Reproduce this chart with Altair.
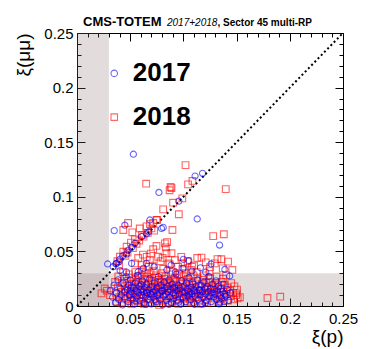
import altair as alt
import pandas as pd

F = "Liberation Sans"

# ---------------- data ----------------
major_ticks = [0, 0.05, 0.1, 0.15, 0.2, 0.25]
minor_ticks = [0.01, 0.02, 0.03, 0.04, 0.06, 0.07, 0.08, 0.09, 0.11, 0.12, 0.13, 0.14,
               0.16, 0.17, 0.18, 0.19, 0.21, 0.22, 0.23, 0.24]

title_parts = ["CMS-TOTEM", "2017+2018", ", Sector 45 multi-RP"]
legend_labels = ["2017", "2018"]
legend_y = [0.213, 0.173]
legend_x_symbol = 0.035
legend_x_text = 0.0525

band_threshold = 0.03
axis_max = 0.25

cluster_2018 = [
    (0.023, 0.0116), (0.028, 0.014), (0.031, 0.010), (0.026, 0.016),
    (0.0365, 0.012), (0.0358, 0.022), (0.0372, 0.004), (0.0384, 0.017), (0.0396, 0.008), (0.0388, 0.027),
    (0.0415, 0.013), (0.0428, 0.021), (0.0421, 0.003), (0.0433, 0.031), (0.0447, 0.009), (0.0452, 0.018),
    (0.0441, 0.025), (0.0459, 0.014), (0.0476, 0.006), (0.0483, 0.016), (0.0472, 0.023), (0.0489, 0.029),
    (0.0495, 0.011), (0.0507, 0.013), (0.0516, 0.020), (0.0512, 0.002), (0.0521, 0.026), (0.0503, 0.008),
    (0.0538, 0.017), (0.0545, 0.010), (0.0551, 0.024), (0.0534, 0.005), (0.0547, 0.031), (0.0556, 0.014),
    (0.0566, 0.012), (0.0578, 0.019), (0.0573, 0.027), (0.0584, 0.007), (0.0569, 0.022),
    (0.0596, 0.015), (0.0604, 0.004), (0.0611, 0.021), (0.0598, 0.010), (0.0607, 0.028), (0.0615, 0.033),
    (0.0624, 0.008), (0.0637, 0.018), (0.0632, 0.013), (0.0641, 0.025), (0.0628, 0.002), (0.0645, 0.030),
    (0.0655, 0.011), (0.0668, 0.020), (0.0662, 0.016), (0.0671, 0.006), (0.0658, 0.027), (0.0674, 0.036),
    (0.0686, 0.014), (0.0694, 0.009), (0.0699, 0.023), (0.0683, 0.003), (0.0702, 0.018), (0.0691, 0.029),
    (0.0714, 0.017), (0.0726, 0.012), (0.0731, 0.026), (0.0718, 0.006), (0.0735, 0.021), (0.0722, 0.032),
    (0.0746, 0.010), (0.0757, 0.019), (0.0752, 0.004), (0.0763, 0.015), (0.0741, 0.028), (0.0768, 0.024),
    (0.0776, 0.013), (0.0785, 0.022), (0.0779, 0.008), (0.0792, 0.017), (0.0773, 0.001), (0.0796, 0.030),
    (0.0806, 0.016), (0.0814, 0.011), (0.0819, 0.025), (0.0802, 0.005), (0.0825, 0.020), (0.0811, 0.034),
    (0.0836, 0.009), (0.0845, 0.018), (0.0849, 0.014), (0.0832, 0.027), (0.0854, 0.003), (0.0841, 0.022),
    (0.0866, 0.012), (0.0874, 0.021), (0.0879, 0.007), (0.0862, 0.016), (0.0885, 0.029), (0.0871, 0.038),
    (0.0896, 0.015), (0.0904, 0.010), (0.0909, 0.024), (0.0893, 0.004), (0.0915, 0.019), (0.0901, 0.031),
    (0.0926, 0.011), (0.0934, 0.018), (0.0939, 0.006), (0.0922, 0.026), (0.0945, 0.014), (0.0931, 0.022),
    (0.0956, 0.016), (0.0964, 0.009), (0.0969, 0.023), (0.0952, 0.002), (0.0975, 0.013), (0.0961, 0.029),
    (0.0986, 0.012), (0.0994, 0.020), (0.0999, 0.007), (0.0982, 0.017), (0.1005, 0.027), (0.0991, 0.034),
    (0.1016, 0.015), (0.1024, 0.008), (0.1029, 0.022), (0.1012, 0.011), (0.1035, 0.004), (0.1021, 0.030),
    (0.1046, 0.013), (0.1054, 0.019), (0.1059, 0.006), (0.1042, 0.025), (0.1065, 0.017),
    (0.1076, 0.010), (0.1084, 0.021), (0.1089, 0.014), (0.1072, 0.003), (0.1095, 0.028), (0.1081, 0.036),
    (0.1106, 0.016), (0.1114, 0.008), (0.1119, 0.023), (0.1102, 0.012), (0.1125, 0.031),
    (0.1136, 0.011), (0.1144, 0.018), (0.1149, 0.005), (0.1132, 0.026), (0.1155, 0.014),
    (0.1166, 0.014), (0.1174, 0.020), (0.1179, 0.009), (0.1162, 0.002), (0.1185, 0.024),
    (0.1196, 0.012), (0.1204, 0.017), (0.1209, 0.006), (0.1192, 0.028), (0.1215, 0.021),
    (0.1226, 0.015), (0.1234, 0.010), (0.1239, 0.022), (0.1222, 0.003), (0.1245, 0.032),
    (0.1256, 0.009), (0.1264, 0.018), (0.1269, 0.013), (0.1252, 0.025),
    (0.1286, 0.016), (0.1294, 0.007), (0.1299, 0.021), (0.1282, 0.011),
    (0.1316, 0.012), (0.1324, 0.019), (0.1329, 0.004), (0.1312, 0.027),
    (0.1346, 0.010), (0.1354, 0.016), (0.1359, 0.022), (0.1342, 0.006),
    (0.1376, 0.013), (0.1384, 0.008), (0.1389, 0.019), (0.1372, 0.025),
    (0.1406, 0.011), (0.1414, 0.017), (0.1419, 0.005), (0.1402, 0.028),
    (0.1436, 0.014), (0.1444, 0.009), (0.1449, 0.021),
    (0.1466, 0.012), (0.1474, 0.006), (0.1479, 0.018),
    (0.1496, 0.010), (0.1504, 0.015), (0.1531, 0.008), (0.151, 0.007), (0.150, 0.0116),
    (0.179, 0.0073), (0.191, 0.0085),
]

upper_2018 = [
    (0.102, 0.129), (0.065, 0.112), (0.088, 0.109), (0.087, 0.106), (0.1044, 0.1114), (0.1085, 0.1145),
    (0.0888, 0.108), (0.1398, 0.107), (0.0903, 0.0946), (0.099, 0.0986), (0.0957, 0.084), (0.081, 0.0885),
    (0.0753, 0.0788), (0.048, 0.076), (0.0435, 0.0696), (0.052, 0.0675), (0.0897, 0.0696), (0.128, 0.064),
    (0.138, 0.0657), (0.0847, 0.0585), (0.0835, 0.0537), (0.117, 0.0443), (0.1357, 0.0428), (0.142, 0.0406),
    (0.137, 0.0345), (0.1295, 0.039), (0.0997, 0.039), (0.0888, 0.0483),
    (0.059, 0.071), (0.061, 0.065), (0.0653, 0.073), (0.0685, 0.075), (0.0716, 0.076), (0.0747, 0.0788),
    (0.0544, 0.061), (0.0507, 0.058), (0.0466, 0.0543), (0.0435, 0.0497), (0.0403, 0.0451), (0.038, 0.041),
    (0.0395, 0.037), (0.0475, 0.049), (0.0455, 0.046), (0.0525, 0.053), (0.056, 0.057), (0.0585, 0.060),
    (0.0625, 0.0635), (0.0665, 0.067), (0.070, 0.071), (0.0725, 0.069),
    (0.0747, 0.055), (0.0716, 0.052), (0.0826, 0.0574), (0.0841, 0.0483), (0.0763, 0.0451), (0.0685, 0.042),
    (0.0607, 0.0375), (0.0655, 0.045), (0.0695, 0.048), (0.0785, 0.041), (0.0805, 0.044), (0.092, 0.042),
    (0.095, 0.036), (0.104, 0.041), (0.110, 0.037), (0.113, 0.044), (0.121, 0.040), (0.125, 0.0355),
    (0.132, 0.043), (0.0575, 0.044), (0.0545, 0.039), (0.062, 0.047), (0.071, 0.037), (0.086, 0.039),
    (0.098, 0.045), (0.107, 0.033), (0.146, 0.033),
]

cluster_2017 = [
    (0.0312, 0.014), (0.0335, 0.008), (0.0348, 0.019), (0.0362, 0.003), (0.0371, 0.012), (0.0386, 0.024),
    (0.0393, 0.006), (0.0408, 0.016), (0.0416, 0.010), (0.0427, 0.001), (0.0433, 0.021), (0.0446, 0.013),
    (0.0452, 0.007), (0.0461, 0.027), (0.0474, 0.015), (0.0482, 0.004), (0.0488, 0.019), (0.0495, 0.010),
    (0.0503, 0.024), (0.0511, 0.013), (0.0518, 0.006), (0.0527, 0.017), (0.0534, 0.011), (0.0542, 0.002),
    (0.0549, 0.021), (0.0556, 0.014), (0.0563, 0.008), (0.0571, 0.028), (0.0578, 0.012), (0.0586, 0.018),
    (0.0593, 0.005), (0.0601, 0.015), (0.0608, 0.010), (0.0615, 0.023), (0.0622, 0.013), (0.0631, 0.003),
    (0.0638, 0.017), (0.0645, 0.009), (0.0652, 0.020), (0.0661, 0.012), (0.0668, 0.006), (0.0675, 0.015),
    (0.0683, 0.025), (0.0691, 0.011), (0.0698, 0.002), (0.0706, 0.018), (0.0713, 0.013), (0.0722, 0.008),
    (0.0729, 0.021), (0.0737, 0.014), (0.0744, 0.004), (0.0752, 0.017), (0.0759, 0.010), (0.0767, 0.027),
    (0.0774, 0.012), (0.0782, 0.006), (0.0789, 0.019), (0.0797, 0.014), (0.0805, 0.001), (0.0812, 0.009),
    (0.0819, 0.022), (0.0827, 0.016), (0.0834, 0.011), (0.0842, 0.005), (0.0849, 0.018), (0.0857, 0.013),
    (0.0864, 0.024), (0.0872, 0.008), (0.0879, 0.015), (0.0887, 0.003), (0.0894, 0.020), (0.0902, 0.012),
    (0.0909, 0.007), (0.0917, 0.017), (0.0924, 0.010), (0.0932, 0.029), (0.0939, 0.014), (0.0947, 0.005),
    (0.0954, 0.019), (0.0962, 0.011), (0.0969, 0.016), (0.0977, 0.002), (0.0984, 0.023), (0.0992, 0.013),
    (0.0999, 0.008), (0.1007, 0.018), (0.1014, 0.012), (0.1022, 0.004), (0.1029, 0.021), (0.1037, 0.015),
    (0.1044, 0.009), (0.1052, 0.026), (0.1059, 0.013), (0.1067, 0.006), (0.1074, 0.017), (0.1082, 0.011),
    (0.1089, 0.020), (0.1097, 0.003), (0.1104, 0.014), (0.1112, 0.009), (0.1119, 0.018), (0.1127, 0.012),
    (0.1134, 0.024), (0.1142, 0.006), (0.1149, 0.015), (0.1157, 0.010), (0.1164, 0.019), (0.1172, 0.002),
    (0.1179, 0.013), (0.1187, 0.008), (0.1194, 0.022), (0.1202, 0.016), (0.1209, 0.011), (0.1217, 0.005),
    (0.1224, 0.018), (0.1232, 0.013), (0.1239, 0.027), (0.1247, 0.009), (0.1254, 0.016), (0.1262, 0.004),
    (0.1269, 0.012), (0.1277, 0.020), (0.1284, 0.008), (0.1292, 0.015), (0.1299, 0.011), (0.1307, 0.023),
    (0.1314, 0.006), (0.1322, 0.014), (0.1329, 0.018), (0.1337, 0.002), (0.1344, 0.010), (0.1352, 0.016),
    (0.1359, 0.007), (0.1367, 0.013), (0.1374, 0.020), (0.1382, 0.004), (0.1389, 0.011), (0.1397, 0.009),
    (0.1412, 0.015), (0.1427, 0.005), (0.1441, 0.012),
    (0.0556, 0.0045), (0.0645, 0.0015), (0.0735, 0.0055), (0.0865, 0.0015), (0.0955, 0.0035),
    (0.1105, 0.0015), (0.1205, 0.0025), (0.1345, 0.0035), (0.0505, 0.0165), (0.0705, 0.0105),
    (0.0805, 0.0135), (0.0905, 0.0165), (0.1055, 0.0105), (0.1155, 0.0145), (0.0655, 0.0125), (0.0605, 0.0195),
]

upper_2017 = [
    (0.053, 0.139), (0.111, 0.119), (0.118, 0.1215), (0.077, 0.104), (0.0957, 0.096), (0.113, 0.0797),
    (0.0685, 0.0788), (0.081, 0.072), (0.035, 0.069), (0.045, 0.074), (0.0794, 0.071), (0.134, 0.0558),
    (0.100, 0.0428), (0.105, 0.0415), (0.126, 0.0385), (0.116, 0.035), (0.0997, 0.0345), (0.1435, 0.0275),
    (0.034, 0.036), (0.037, 0.039), (0.0403, 0.0428), (0.043, 0.046), (0.048, 0.051), (0.0513, 0.0537),
    (0.0544, 0.0574), (0.0607, 0.0635), (0.0653, 0.066), (0.0675, 0.068), (0.0465, 0.0475), (0.0395, 0.0405),
    (0.0365, 0.0385), (0.0288, 0.0385), (0.0513, 0.039), (0.0575, 0.0314), (0.0653, 0.039), (0.0725, 0.036),
    (0.0845, 0.033), (0.0925, 0.031), (0.108, 0.032), (0.0465, 0.031), (0.0405, 0.0325), (0.121, 0.031),
    (0.139, 0.0335), (0.0625, 0.0345), (0.0885, 0.0375),
]

# ---------------- tables ----------------
pts18 = cluster_2018 + upper_2018
pts17 = cluster_2017 + upper_2017
df18 = pd.DataFrame({"xp": [p[0] for p in pts18], "xmm": [p[1] for p in pts18]})
df17 = pd.DataFrame({"xp": [p[0] for p in pts17], "xmm": [p[1] for p in pts17]})
vband = pd.DataFrame({"x0": [0], "x1": [band_threshold], "y0": [0], "y1": [axis_max]})
hband = pd.DataFrame({"x0": [0], "x1": [axis_max], "y0": [0], "y1": [band_threshold]})
diag = pd.DataFrame({"xp": [0, axis_max], "xmm": [0, axis_max]})
leg = pd.DataFrame({"label": legend_labels, "y": legend_y,
                    "xs": [legend_x_symbol] * 2, "xt": [legend_x_text] * 2})

W, H = 266, 273
sc = alt.Scale(domain=[0, axis_max], nice=False, zero=False)


def tick_axis(orient, values, size, offset):
    return alt.Axis(orient=orient, values=values, tickSize=size, offset=offset, labels=False,
                    domain=False, grid=False, title=None, ticks=True, tickColor="black", tickWidth=1)


x_lab = alt.Axis(orient="bottom", values=major_ticks, format=".2~f", ticks=False, tickSize=0,
                 domain=False, grid=False, labelFont=F, labelFontSize=15, labelColor="black",
                 labelPadding=5, labelFlush=False, labelOverlap=False,
                 title="ξ(p)", titleFont=F, titleFontSize=19, titleFontWeight="normal",
                 titleColor="black", titleX=W, titleY=36, titleAlign="right",
                 titleBaseline="alphabetic")
y_lab = alt.Axis(orient="left", values=major_ticks, format=".2~f", ticks=False, tickSize=0,
                 domain=False, grid=False, labelFont=F, labelFontSize=15, labelColor="black",
                 labelPadding=4, labelFlush=False, labelOverlap=False,
                 title="ξ(μμ)", titleFont=F, titleFontSize=19, titleFontWeight="normal",
                 titleColor="black", titleX=-44, titleY=0, titleAngle=270, titleAlign="right",
                 titleBaseline="bottom")

band_color = "#8c6e72"

l_vband = alt.Chart(vband).mark_rect(color=band_color, opacity=0.24).encode(
    x=alt.X("x0:Q", scale=sc, axis=x_lab), x2="x1:Q",
    y=alt.Y("y0:Q", scale=sc, axis=y_lab), y2="y1:Q")

l_hband = alt.Chart(hband).mark_rect(color=band_color, opacity=0.24).encode(
    x=alt.X("x0:Q", scale=sc, axis=tick_axis("top", major_ticks, 8, -H)), x2="x1:Q",
    y=alt.Y("y0:Q", scale=sc, axis=tick_axis("right", major_ticks, 8, -W)), y2="y1:Q")

l_diag = alt.Chart(diag).mark_line(color="black", strokeWidth=2, strokeDash=[2, 2.6]).encode(
    x=alt.X("xp:Q", scale=sc, axis=tick_axis("top", minor_ticks, 4, -H)),
    y=alt.Y("xmm:Q", scale=sc, axis=tick_axis("right", minor_ticks, 4, -W)))

l_red = alt.Chart(df18).mark_point(shape="square", filled=False, color="#ff0000", size=45,
                                   strokeWidth=1.1, opacity=0.6).encode(
    x=alt.X("xp:Q", scale=sc, axis=tick_axis("bottom", major_ticks, 8, -H)),
    y=alt.Y("xmm:Q", scale=sc, axis=tick_axis("left", major_ticks, 8, -W)))

l_blue = alt.Chart(df17).mark_point(shape="circle", filled=False, color="#0000ff", size=38,
                                    strokeWidth=1.1, opacity=0.6).encode(
    x=alt.X("xp:Q", scale=sc, axis=tick_axis("bottom", minor_ticks, 4, -H)),
    y=alt.Y("xmm:Q", scale=sc, axis=tick_axis("left", minor_ticks, 4, -W)))

l_leg_sym = alt.Chart(leg).mark_point(filled=False, size=42, strokeWidth=1.1, opacity=0.6).encode(
    x=alt.X("xs:Q", scale=sc, axis=None),
    y=alt.Y("y:Q", scale=sc, axis=None),
    shape=alt.Shape("label:N", scale=alt.Scale(domain=legend_labels, range=["circle", "square"]), legend=None),
    color=alt.Color("label:N", scale=alt.Scale(domain=legend_labels, range=["#0000ff", "#ff0000"]), legend=None))

l_leg_txt = alt.Chart(leg).mark_text(font=F, fontSize=26, fontWeight="bold", align="left",
                                     baseline="middle", color="black").encode(
    x=alt.X("xt:Q", scale=sc, axis=None),
    y=alt.Y("y:Q", scale=sc, axis=None),
    text="label:N")

t1 = alt.Chart(pd.DataFrame({"t": [title_parts[0]]})).mark_text(
    font=F, fontSize=13, fontWeight="bold", align="left", baseline="alphabetic", color="black").encode(
    text="t:N", x=alt.value(6), y=alt.value(-7))
t2 = alt.Chart(pd.DataFrame({"t": [title_parts[1]]})).mark_text(
    font=F, fontSize=10, fontStyle="italic", align="left", baseline="alphabetic", color="black").encode(
    text="t:N", x=alt.value(90), y=alt.value(-7))
t3 = alt.Chart(pd.DataFrame({"t": [title_parts[2]]})).mark_text(
    font=F, fontSize=10, fontWeight="bold", align="left", baseline="alphabetic", color="black").encode(
    text="t:N", x=alt.value(140.5), y=alt.value(-7))

chart = alt.layer(l_vband, l_hband, l_diag, l_red, l_blue, l_leg_sym, l_leg_txt, t1, t2, t3).resolve_axis(
    x="independent", y="independent"
).properties(
    width=W, height=H,
    autosize=alt.AutoSizeParams(type="none"),
    padding={"left": 69, "top": 25, "right": 30, "bottom": 43},
).configure_view(stroke="black", strokeWidth=1)

chart.save("out.html", embed_options={"renderer": "svg", "actions": False})
